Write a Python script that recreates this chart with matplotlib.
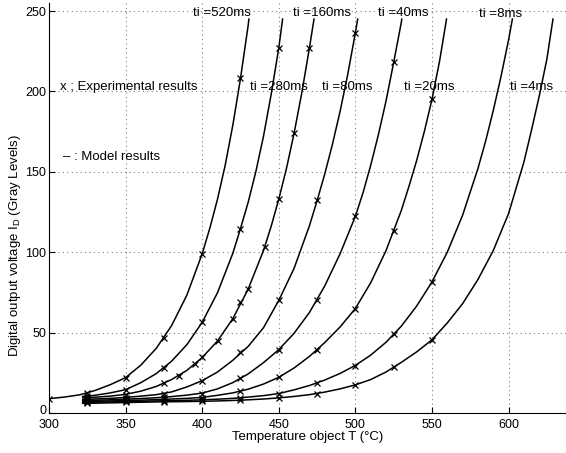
import numpy as np
import matplotlib
matplotlib.use('Agg')
import matplotlib.pyplot as plt
import matplotlib.transforms as mtransforms

plt.rcParams['font.family'] = ['Liberation Sans', 'DejaVu Sans']

# model curves
m520_T = [300, 310, 320, 330, 340, 350, 360, 370, 380, 390, 400, 405, 410, 415, 420, 425, 430, 430.5]
m520_I = [8.9, 9.9, 11.3, 14.0, 17.6, 22.0, 29.8, 40.2, 54.3, 73.3, 99, 115, 133, 154, 179, 208, 241, 245]
m280_T = [322, 330, 340, 350, 360, 370, 380, 390, 400, 410, 420, 425, 430, 435, 440, 445, 450, 452.5]
m280_I = [10.3, 11.0, 12.5, 14.5, 18.9, 24.5, 32.2, 42.5, 56.4, 74.8, 99.3, 114.7, 131, 150, 172, 198, 227, 245]
m160_T = [322, 330, 340, 350, 360, 370, 380, 390, 400, 410, 420, 430, 440, 445, 450, 455, 460, 465, 470, 473]
m160_I = [9.4, 9.8, 10.5, 11.6, 13.6, 16.5, 20.8, 26.5, 34.5, 44.8, 58.7, 77, 101, 116, 133, 152, 174, 199, 227, 245]
m80_T = [322, 330, 340, 350, 360, 370, 380, 390, 400, 410, 420, 430, 440, 450, 460, 470, 475, 480, 485, 490, 495, 500, 501.5]
m80_I = [8.4, 8.7, 9.1, 9.7, 10.5, 11.4, 13.1, 16.2, 20.1, 25.5, 32.8, 41.4, 53, 70, 90, 116.4, 132, 148.6, 167, 187.5, 210.5, 236.5, 245]
m40_T = [322, 330, 340, 350, 360, 370, 380, 390, 400, 410, 420, 430, 440, 450, 460, 470, 480, 490, 500, 505, 510, 515, 520, 525, 530, 530.3]
m40_I = [7.7, 7.9, 8.2, 8.6, 9.0, 9.5, 10.2, 11.1, 12.4, 15.0, 18.9, 24.3, 31.3, 39.4, 49.6, 62.5, 79, 99, 122.3, 137, 154, 173, 194, 218, 243, 245]
m20_T = [322, 330, 340, 350, 360, 370, 380, 390, 400, 410, 420, 430, 440, 450, 460, 470, 480, 490, 500, 510, 520, 530, 535, 540, 545, 550, 555, 559.5]
m20_I = [7.1, 7.3, 7.5, 7.8, 8.0, 8.3, 8.7, 9.1, 9.7, 11.0, 12.5, 14.8, 18.0, 22.2, 28.0, 35.2, 43.8, 53.5, 65, 81, 101, 126, 141, 157, 175, 195, 219, 245]
m8_T = [322, 330, 340, 350, 360, 370, 380, 390, 400, 410, 420, 430, 440, 450, 460, 470, 480, 490, 500, 510, 520, 530, 540, 550, 560, 570, 580, 585, 590, 595, 600, 602.5]
m8_I = [6.5, 6.7, 6.9, 7.1, 7.3, 7.5, 7.7, 7.9, 8.2, 8.6, 9.1, 9.9, 10.8, 12.1, 14.4, 17.1, 20.5, 24.6, 29.6, 36, 44, 54, 66.5, 81.5, 100, 123, 152, 169, 188, 209, 232, 245]
m4_T = [322, 330, 340, 350, 360, 370, 380, 390, 400, 410, 420, 430, 440, 450, 460, 470, 480, 490, 500, 510, 520, 530, 540, 550, 560, 570, 580, 590, 600, 605, 610, 615, 620, 625, 629]
m4_I = [6.0, 6.1, 6.3, 6.5, 6.7, 6.9, 7.0, 7.1, 7.3, 7.5, 7.8, 8.2, 8.7, 9.4, 10.3, 11.4, 13.0, 15.0, 17.5, 20.8, 25.5, 31.5, 38, 45.5, 56, 68, 83, 101, 124, 140, 156, 176, 197, 220, 245]

# experimental points
e520_T = [300, 325, 350, 375, 400, 425]
e520_I = [8.5, 12.4, 22, 46.7, 99, 208.5]
e280_T = [325, 350, 375, 400, 425, 450]
e280_I = [10.5, 14.5, 28, 56.4, 114.7, 227]
e160_T = [325, 350, 375, 385, 395, 400, 410, 420, 425, 430, 441, 450, 460, 470]
e160_I = [9.5, 11.4, 18.7, 23, 30.3, 34.8, 44.6, 58.7, 68.8, 77, 103, 133, 174, 227]
e80_T = [325, 350, 375, 400, 425, 450, 475, 500]
e80_I = [8.5, 9.6, 12, 20.1, 37.7, 70, 132.3, 236.5]
e40_T = [325, 350, 375, 400, 425, 450, 475, 500, 525]
e40_I = [7.8, 8.6, 9.8, 12, 21.8, 39.4, 70.5, 122.3, 218]
e20_T = [325, 350, 375, 400, 425, 450, 475, 500, 525, 550]
e20_I = [7.2, 7.8, 8.5, 9.6, 13.5, 22.2, 39.4, 64.7, 113, 195]
e8_T = [325, 350, 375, 400, 425, 450, 475, 500, 525, 550]
e8_I = [6.6, 7.2, 7.5, 8, 9.2, 12, 18.7, 29.4, 49.2, 81.5]
e4_T = [325, 350, 375, 400, 425, 450, 475, 500, 525, 550]
e4_I = [6.0, 6.6, 7.0, 7.2, 7.8, 9.3, 12, 17.2, 28.6, 45.2]

# curve labels
labels = ['ti =520ms', 'ti =160ms', 'ti =40ms', 'ti =8ms',
          'ti =280ms', 'ti =80ms', 'ti =20ms', 'ti =4ms']
label_T = [394, 459, 515, 581, 431, 478, 532, 601]
label_I = [249, 249, 249, 248, 202.5, 202.5, 202.5, 202.5]

models = [(m520_T, m520_I), (m280_T, m280_I), (m160_T, m160_I), (m80_T, m80_I),
          (m40_T, m40_I), (m20_T, m20_I), (m8_T, m8_I), (m4_T, m4_I)]
exps = [(e520_T, e520_I), (e280_T, e280_I), (e160_T, e160_I), (e80_T, e80_I),
        (e40_T, e40_I), (e20_T, e20_I), (e8_T, e8_I), (e4_T, e4_I)]

fig = plt.figure(figsize=(5.66, 4.53), dpi=100)
ax = fig.add_axes([49 / 566, 40 / 453, 517 / 566, 410 / 453])

for T, I in models:
    ax.plot(T, I, color='black', lw=1.1, zorder=3)
for T, I in exps:
    ax.plot(T, I, 'x', color='black', ms=5, mew=0.9, zorder=4)

for txt, t, v in zip(labels, label_T, label_I):
    ax.text(t, v, txt, fontsize=9.5, ha='left', va='center', zorder=5)

ax.text(307, 202.5, 'x ; Experimental results', fontsize=9.5, ha='left', va='center')
ax.text(309, 159, '\u2013 : Model results', fontsize=9.5, ha='left', va='center')

ax.set_xlim(300, 637.5)
ax.set_ylim(0, 255)
ax.set_xticks([300, 350, 400, 450, 500, 550, 600])
ax.set_yticks([0, 50, 100, 150, 200, 250])
ax.grid(True, linestyle=(0, (1, 3)), color='#808080', lw=0.8)
ax.set_axisbelow(True)
ax.spines['top'].set_visible(False)
ax.spines['right'].set_visible(False)
ax.tick_params(direction='in', length=4, labelsize=9)
ax.tick_params(axis='x', pad=4)
ax.tick_params(axis='y', pad=2)

# the "0" label sits a little higher, as in the scan
shift = mtransforms.ScaledTranslation(0, 4 / 100, fig.dpi_scale_trans)
ylab0 = ax.get_yticklabels()[0]
ylab0.set_transform(ylab0.get_transform() + shift)

ax.set_xlabel('Temperature object T (\u00b0C)', fontsize=9.5, labelpad=0)
fig.text(15 / 566, 1 - 246 / 453, 'Digital output voltage I$_\\mathregular{D}$ (Gray Levels)',
         rotation=90, ha='center', va='center', fontsize=9.5)

fig.savefig('out.png', dpi=100)
